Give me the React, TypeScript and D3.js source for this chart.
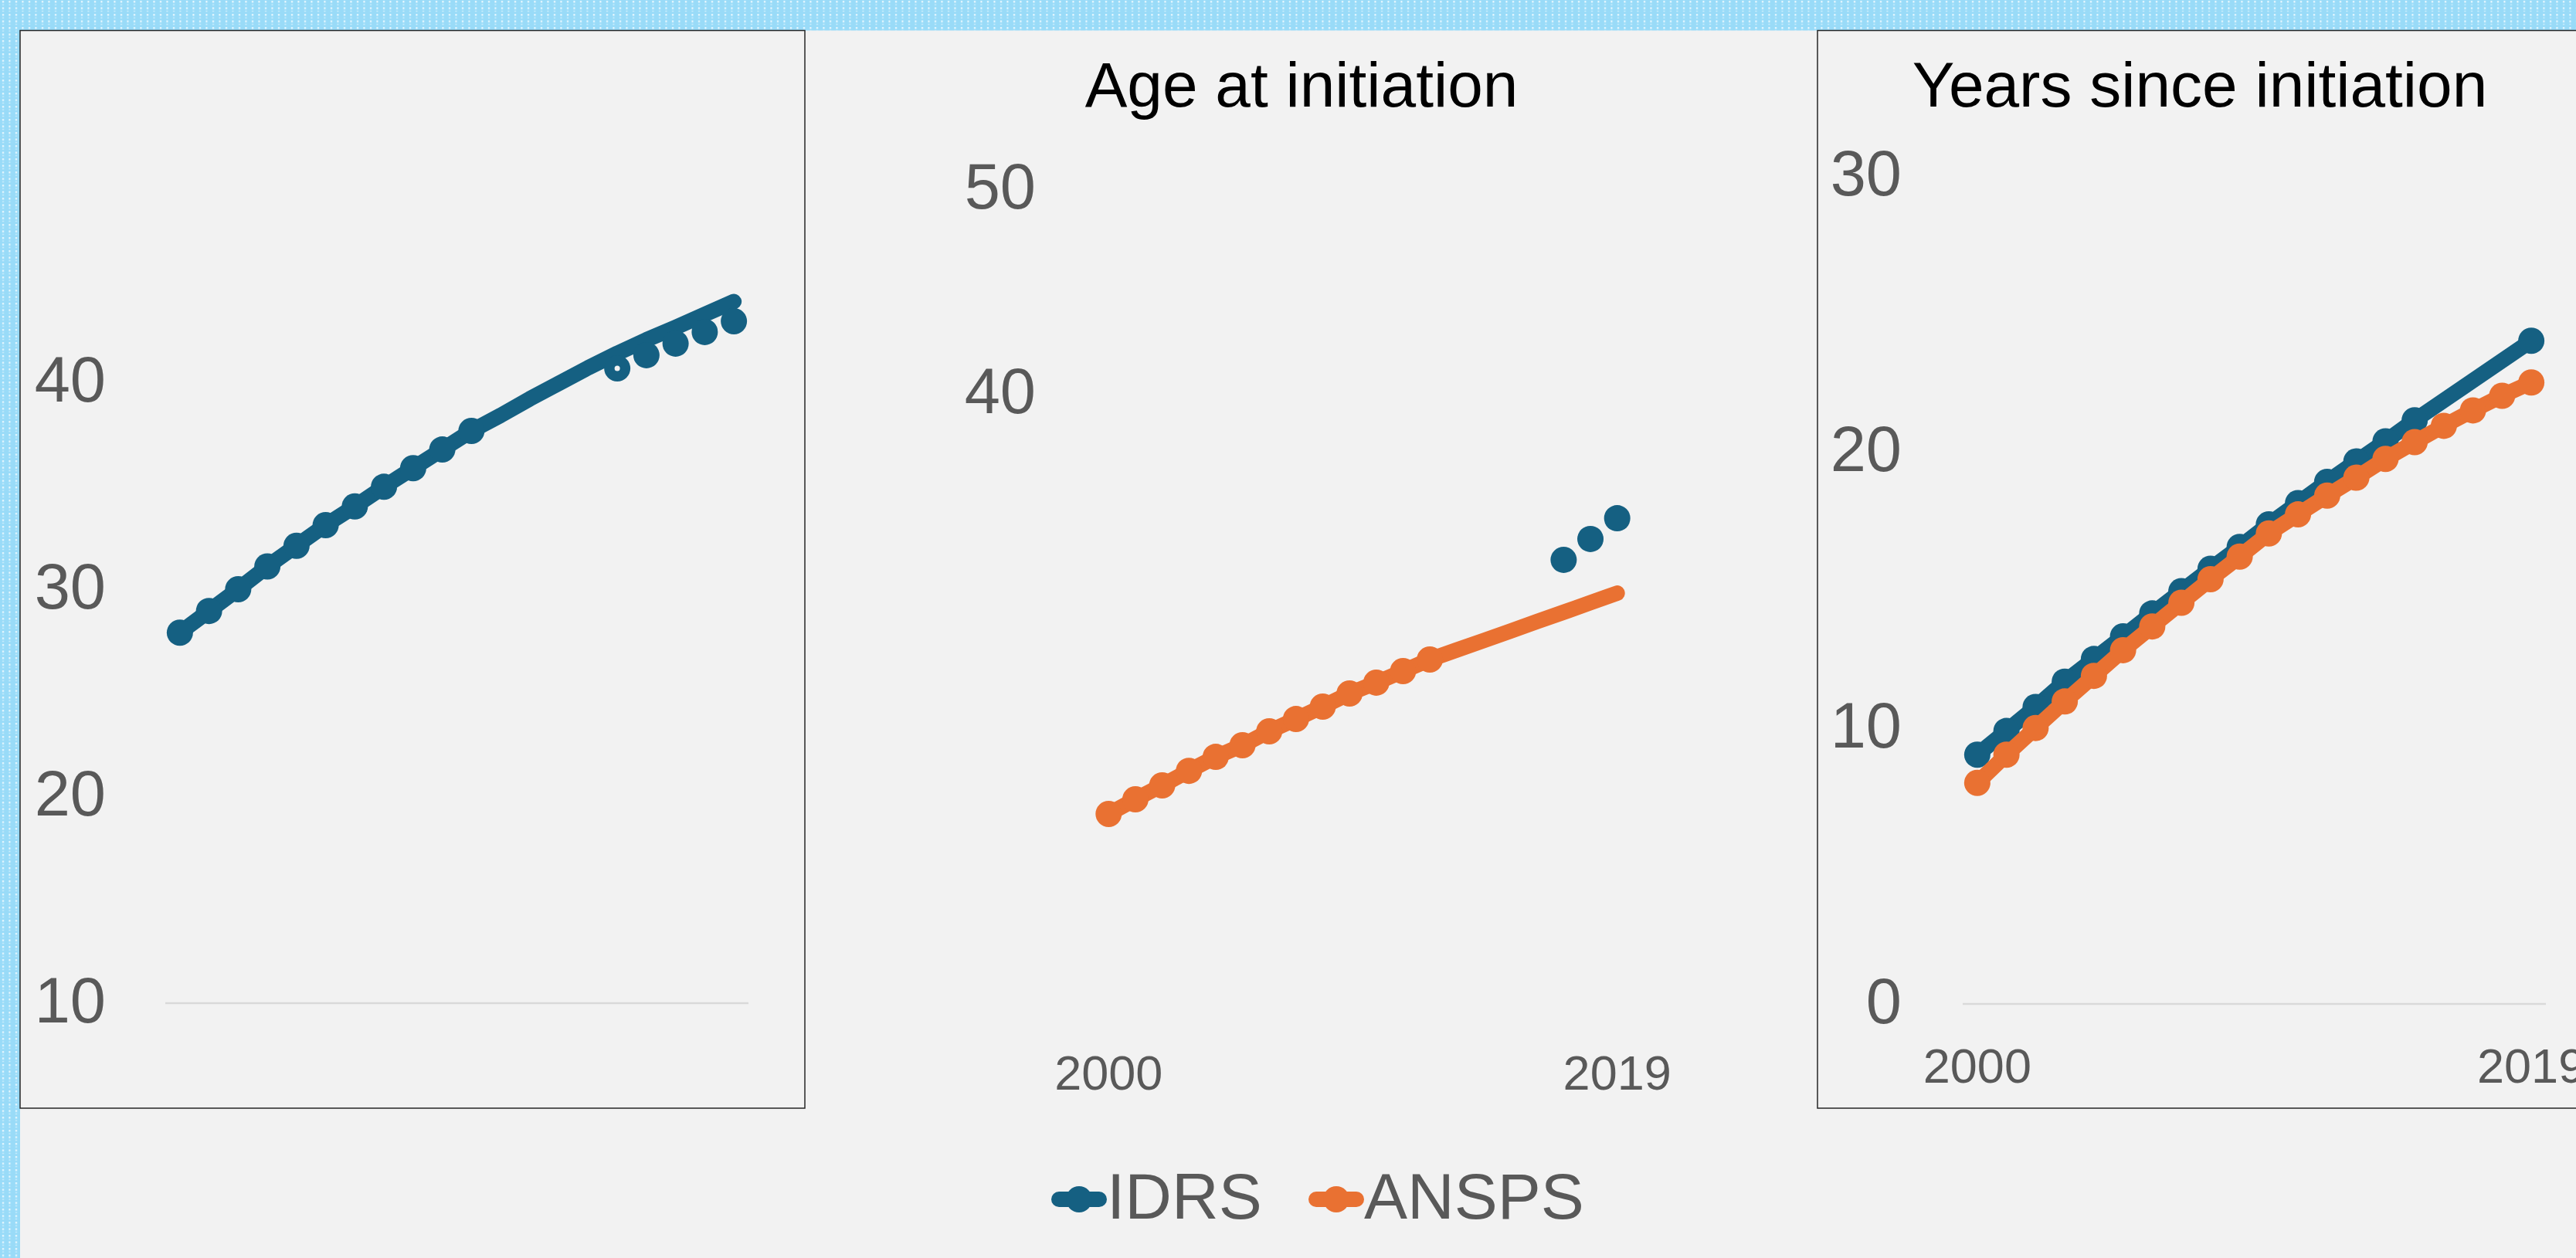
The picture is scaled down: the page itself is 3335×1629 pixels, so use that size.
import React, { useEffect, useRef } from "react";
import * as d3 from "d3";

const W = 3335, H = 1629;
const BLUE = "#156082", ORANGE = "#E97132";
const TEXT = "#595959", GRID = "#D9D9D9", BG = "#F2F2F2";
const FONT = "'Liberation Sans', Arial, Helvetica, sans-serif";

const years = ["2000", "2001", "2002", "2003", "2004", "2005", "2006", "2007", "2008", "2009",
  "2010", "2011", "2012", "2013", "2014", "2015", "2016", "2017", "2018", "2019"];

// left panel - age (IDRS): line all years, markers on the first 11, loose dots at the end
const ageIdrs = [27.9, 28.95, 30.0, 31.1, 32.1, 33.1, 34.0, 34.95, 35.85, 36.75,
  37.65, 38.4, 39.2, 39.95, 40.7, 41.4, 42.05, 42.65, 43.28, 43.9];
const ageIdrsMarked = ["2000", "2001", "2002", "2003", "2004", "2005", "2006", "2007", "2008", "2009", "2010"];
const ageIdrsDotYears = ["2015", "2016", "2017", "2018", "2019"];
const ageIdrsDots = [40.67, 41.31, 41.87, 42.43, 42.95];

// middle panel - age at initiation
const initAnsps = [19.47, 20.19, 20.87, 21.58, 22.26, 22.83, 23.51, 24.11, 24.72, 25.36,
  25.89, 26.45, 27.02, 27.48, 27.94, 28.4, 28.87, 29.33, 29.8, 30.26];
const initAnspsMarked = ["2000", "2001", "2002", "2003", "2004", "2005", "2006", "2007", "2008", "2009", "2010", "2011", "2012"];
const initIdrsDotYears = ["2017", "2018", "2019"];
const initIdrsDots = [31.89, 32.91, 33.92];

// right panel - years since initiation
const sinceIdrs = [9.03, 9.89, 10.76, 11.68, 12.5, 13.32, 14.15, 14.96, 15.77, 16.56,
  17.38, 18.15, 18.92, 19.66, 20.39, 21.15, 21.87, 22.59, 23.31, 24.03];
const sinceIdrsMarked = ["2000", "2001", "2002", "2003", "2004", "2005", "2006", "2007", "2008", "2009",
  "2010", "2011", "2012", "2013", "2014", "2015", "2019"];
const sinceAnsps = [8.01, 9.03, 10.0, 10.96, 11.89, 12.82, 13.68, 14.54, 15.39, 16.21,
  17.05, 17.74, 18.42, 19.07, 19.75, 20.36, 20.95, 21.51, 22.04, 22.52];
const sinceAnspsMarked = years;

const ticksAge = [10, 20, 30, 40];
const ticksInit = [40, 50];
const ticksSince = [0, 10, 20, 30];
const xTickLabels = ["2000", "2019"];

const legendNames = ["IDRS", "ANSPS"];
const legendColors = [BLUE, ORANGE];

function App() {
  const ref = useRef<SVGSVGElement>(null);

  useEffect(() => {
    document.body.style.margin = "0";
    document.body.style.overflow = "hidden";
    const svg = d3.select(ref.current);
    svg.selectAll("*").remove();

    // dotted light-blue slide border
    const pat = svg.append("defs").append("pattern")
      .attr("id", "dots").attr("patternUnits", "userSpaceOnUse")
      .attr("width", 8.5).attr("height", 8.5);
    pat.append("rect").attr("width", 8.5).attr("height", 8.5).attr("fill", "#99DBF8");
    pat.append("rect").attr("x", 3).attr("y", 1).attr("width", 2).attr("height", 2.4).attr("fill", "#fff").attr("opacity", 0.85);
    pat.append("rect").attr("x", 3).attr("y", 5.4).attr("width", 2).attr("height", 1.4).attr("fill", "#fff").attr("opacity", 0.55);

    svg.append("rect").attr("width", W).attr("height", H).attr("fill", BG);
    svg.append("rect").attr("width", W).attr("height", 39.5).attr("fill", "url(#dots)");
    svg.append("rect").attr("width", 26).attr("height", H).attr("fill", "url(#dots)");

    // framed boxes (left and right panels)
    svg.append("rect").attr("x", 26).attr("y", 39.5).attr("width", 1016).attr("height", 1395.5)
      .attr("fill", BG).attr("stroke", "#262626").attr("stroke-width", 1.5);
    svg.append("rect").attr("x", 2353).attr("y", 39.5).attr("width", 1100).attr("height", 1395.5)
      .attr("fill", BG).attr("stroke", "#262626").attr("stroke-width", 1.5);

    const g = svg.append("g").attr("font-family", FONT);

    function series(x, y, values: number[], color: string, markYears: string[]) {
      const line = d3.line<number>().x((d, i) => x(years[i])).y(d => y(d));
      g.append("path").attr("d", line(values)).attr("fill", "none")
        .attr("stroke", color).attr("stroke-width", 20)
        .attr("stroke-linejoin", "round").attr("stroke-linecap", "round");
      dots(x, y, markYears, markYears.map(yr => values[years.indexOf(yr)]), color);
    }

    function dots(x, y, yrs: string[], vals: number[], color: string) {
      g.append("g").selectAll("circle").data(yrs).enter().append("circle")
        .attr("cx", d => x(d)).attr("cy", (d, i) => y(vals[i]))
        .attr("r", 17).attr("fill", color);
    }

    function yLabels(y, ticks: number[], right: number) {
      g.append("g").selectAll("text").data(ticks).enter().append("text")
        .attr("x", right).attr("y", d => y(d) + 25)
        .attr("text-anchor", "end").attr("font-size", 83).attr("fill", TEXT)
        .text(d => d);
    }

    function xLabels(x, base: number) {
      g.append("g").selectAll("text").data(xTickLabels).enter().append("text")
        .attr("x", d => x(d)).attr("y", base)
        .attr("text-anchor", "middle").attr("font-size", 63).attr("fill", TEXT)
        .text(d => d);
    }

    function title(txt: string, cx: number) {
      g.append("text").attr("x", cx).attr("y", 138).attr("text-anchor", "middle")
        .attr("font-size", 82).attr("fill", "#000").text(txt);
    }

    // ---- left panel
    const x1 = d3.scalePoint().domain(years).range([214, 969]).padding(0.5);
    const y1 = d3.scaleLinear().domain([10, 50]).range([1299, 227]);
    g.append("line").attr("x1", 214).attr("x2", 969).attr("y1", y1(10)).attr("y2", y1(10))
      .attr("stroke", GRID).attr("stroke-width", 2.5);
    yLabels(y1, ticksAge, 137);
    series(x1, y1, ageIdrs, BLUE, ageIdrsMarked);
    dots(x1, y1, ageIdrsDotYears, ageIdrsDots, BLUE);
    // the 2015 dot has a small hole in it
    g.append("circle").attr("cx", x1("2015")).attr("cy", y1(ageIdrsDots[0])).attr("r", 3.5).attr("fill", BG);

    // ---- middle panel
    const x2 = d3.scalePoint().domain(years).range([1418, 2111]).padding(0.5);
    const y2 = d3.scaleLinear().domain([10, 50]).range([1305, 245]);
    title("Age at initiation", 1685);
    yLabels(y2, ticksInit, 1341);
    xLabels(x2, 1411);
    series(x2, y2, initAnsps, ORANGE, initAnspsMarked);
    dots(x2, y2, initIdrsDotYears, initIdrsDots, BLUE);

    // ---- right panel
    const x3 = d3.scalePoint().domain(years).range([2541, 3296]).padding(0.5);
    const y3 = d3.scaleLinear().domain([0, 30]).range([1300, 228]);
    g.append("line").attr("x1", 2541).attr("x2", 3296).attr("y1", y3(0)).attr("y2", y3(0))
      .attr("stroke", GRID).attr("stroke-width", 2.5);
    title("Years since initiation", 2848);
    yLabels(y3, ticksSince, 2462);
    xLabels(x3, 1402);
    series(x3, y3, sinceIdrs, BLUE, sinceIdrsMarked);
    series(x3, y3, sinceAnsps, ORANGE, sinceAnspsMarked);

    // ---- legend
    const legX = [1361, 1694];
    const leg = g.append("g").selectAll("g").data(legendNames).enter().append("g")
      .attr("transform", (d, i) => `translate(${legX[i]},1553)`);
    leg.append("line").attr("x1", 10).attr("x2", 62).attr("stroke", (d, i) => legendColors[i])
      .attr("stroke-width", 20).attr("stroke-linecap", "round");
    leg.append("circle").attr("cx", 36).attr("r", 17).attr("fill", (d, i) => legendColors[i]);
    leg.append("text").attr("x", 72).attr("y", 25).attr("font-size", 84).attr("fill", TEXT).text(d => d);
  }, []);

  return <svg ref={ref} width={W} height={H} style={{ display: "block", position: "absolute", left: 0, top: 0 }} />;
}

export default App;
